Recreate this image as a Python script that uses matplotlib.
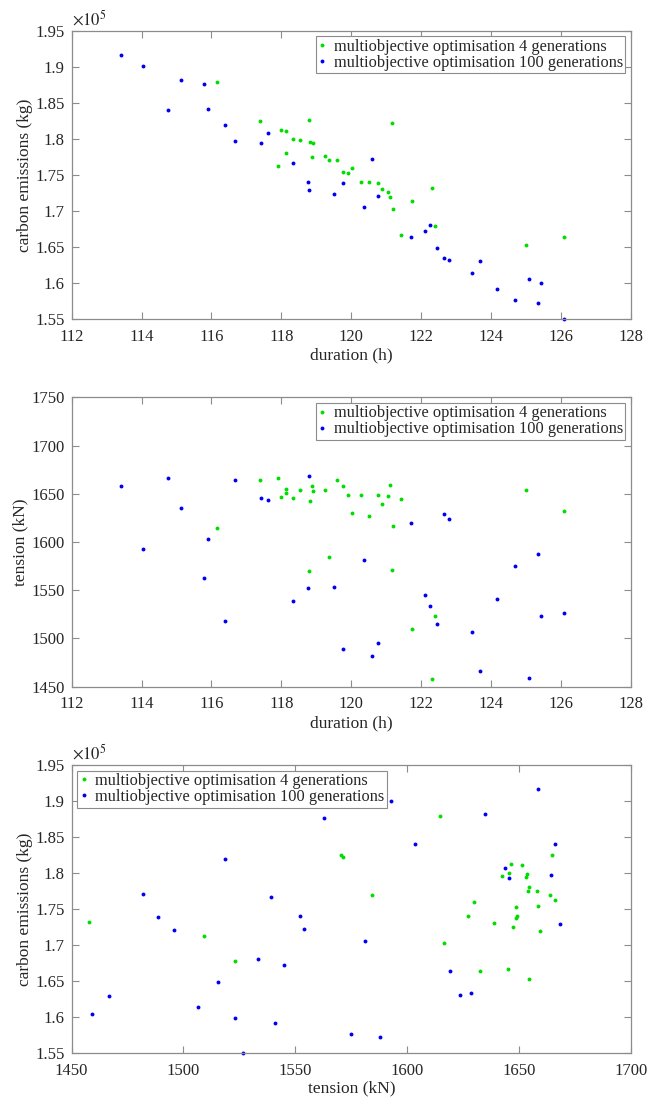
import matplotlib
matplotlib.use("Agg")
import matplotlib.pyplot as plt
from matplotlib.ticker import FuncFormatter, MultipleLocator

# ---------------- data ----------------
# multiobjective optimisation, 4 generations
g4_duration = [116.17, 117.38, 117.90, 118.00, 118.12, 118.12, 118.32, 118.54, 118.78, 118.81,
               118.88, 118.90, 119.24, 119.35, 119.60, 119.76, 119.90, 120.03, 120.29, 120.50,
               120.76, 120.87, 121.05, 121.12, 121.16, 121.20, 121.43, 121.74, 122.31, 122.39,
               125.01, 126.08]
g4_carbon = [187870, 182500, 176250, 181250, 181110, 178010, 179950, 179810, 182550, 179580,
             177500, 179400, 177550, 176990, 176990, 175460, 175230, 175930, 174070, 174030,
             173840, 173100, 172590, 171900, 182220, 170280, 166670, 171340, 173190, 167870,
             165320, 166440]
g4_tension = [1614.8, 1664.6, 1666.0, 1646.6, 1651.1, 1654.6, 1645.6, 1653.6, 1570.3, 1642.2,
              1658.1, 1653.2, 1653.9, 1584.4, 1663.9, 1658.4, 1648.7, 1629.7, 1649.1, 1627.3,
              1648.7, 1639.0, 1647.3, 1659.4, 1571.3, 1616.6, 1644.9, 1509.4, 1457.6, 1522.9,
              1654.3, 1632.5]

# multiobjective optimisation, 100 generations
g100_duration = [113.40, 114.03, 114.77, 115.12, 115.79, 115.91, 116.39, 116.67, 117.42, 117.62,
                 118.32, 118.76, 118.79, 119.51, 119.76, 120.36, 120.60, 120.76, 121.71, 122.11,
                 122.26, 122.44, 122.64, 122.81, 123.46, 123.69, 124.16, 124.68, 125.08, 125.33,
                 125.44, 126.08]
g100_carbon = [191600, 190050, 184030, 188150, 187640, 184070, 181940, 179720, 179350, 180740,
               176670, 174070, 172920, 172310, 173890, 170560, 177130, 172080, 166440, 167220,
               168060, 164860, 163430, 163150, 161390, 163010, 159170, 157690, 160510, 157270,
               159950, 155000]
g100_tension = [1658.4, 1592.7, 1666.0, 1634.9, 1563.0, 1603.4, 1518.4, 1664.3, 1645.6, 1643.5,
                1539.1, 1551.9, 1668.4, 1553.7, 1488.7, 1581.0, 1482.1, 1495.6, 1619.3, 1545.0,
                1533.3, 1515.3, 1628.7, 1623.5, 1506.3, 1466.6, 1540.9, 1575.1, 1459.0, 1587.9,
                1523.2, 1526.4]

label_4 = "multiobjective optimisation 4 generations"
label_100 = "multiobjective optimisation 100 generations"

# ---------------- style ----------------
plt.rcParams['font.family'] = ['Liberation Serif', 'DejaVu Serif']
plt.rcParams['mathtext.fontset'] = 'stix'
FS = 12
LFS = 11.75
TXT = '#262626'
AX = '#8c8c8c'
GREEN = '#00dd00'
BLUE = '#0000ee'

fig = plt.figure(figsize=(6.63, 11.04), dpi=100)
L, W = 0.108, 0.8436
ax1 = fig.add_axes([L, 0.7111, W, 0.2611])
ax2 = fig.add_axes([L, 0.3780, W, 0.2621])
ax3 = fig.add_axes([L, 0.0459, W, 0.2612])


def style(ax):
    for s in ax.spines.values():
        s.set_color(AX)
        s.set_linewidth(0.9)
    ax.tick_params(direction='in', top=True, right=True, length=5, width=0.8,
                   color=AX, labelcolor=TXT, labelsize=FS)
    ax.tick_params(axis='x', pad=7)
    ax.tick_params(axis='y', pad=5)


def pts(ax, x, y, c, lab):
    ax.plot(x, y, linestyle='none', marker='o', markersize=2.8, color=c,
            markeredgewidth=0, label=lab, clip_on=False)


carbon_fmt = FuncFormatter(lambda v, p: '%g' % round(v / 1e5, 4))

# Panel 1: duration vs carbon
pts(ax1, g4_duration, g4_carbon, GREEN, label_4)
pts(ax1, g100_duration, g100_carbon, BLUE, label_100)
ax1.set_xlim(112, 128)
ax1.set_ylim(155000, 195000)
ax1.xaxis.set_major_locator(MultipleLocator(2))
ax1.yaxis.set_major_locator(MultipleLocator(5000))
ax1.yaxis.set_major_formatter(carbon_fmt)
ax1.set_xlabel('duration (h)', fontsize=FS + 0.5, color=TXT, labelpad=2)
ax1.set_ylabel('carbon emissions (kg)', fontsize=FS + 0.5, color=TXT, labelpad=2)
ax1.text(0.0, 1.004, r'$\times10^{5}$', transform=ax1.transAxes, ha='left', va='bottom',
         fontsize=FS, color=TXT)

# Panel 2: duration vs tension
pts(ax2, g4_duration, g4_tension, GREEN, label_4)
pts(ax2, g100_duration, g100_tension, BLUE, label_100)
ax2.set_xlim(112, 128)
ax2.set_ylim(1450, 1750)
ax2.xaxis.set_major_locator(MultipleLocator(2))
ax2.yaxis.set_major_locator(MultipleLocator(50))
ax2.set_xlabel('duration (h)', fontsize=FS + 0.5, color=TXT, labelpad=2)
ax2.set_ylabel('tension (kN)', fontsize=FS + 0.5, color=TXT, labelpad=2)

# Panel 3: tension vs carbon
pts(ax3, g4_tension, g4_carbon, GREEN, label_4)
pts(ax3, g100_tension, g100_carbon, BLUE, label_100)
ax3.set_xlim(1450, 1700)
ax3.set_ylim(155000, 195000)
ax3.xaxis.set_major_locator(MultipleLocator(50))
ax3.yaxis.set_major_locator(MultipleLocator(5000))
ax3.yaxis.set_major_formatter(carbon_fmt)
ax3.set_xlabel('tension (kN)', fontsize=FS + 0.5, color=TXT, labelpad=1)
ax3.set_ylabel('carbon emissions (kg)', fontsize=FS + 0.5, color=TXT, labelpad=2)
ax3.text(0.0, 1.004, r'$\times10^{5}$', transform=ax3.transAxes, ha='left', va='bottom',
         fontsize=FS, color=TXT)

for ax, loc in [(ax1, 'upper right'), (ax2, 'upper right'), (ax3, 'upper left')]:
    style(ax)
    leg = ax.legend(loc=loc, fontsize=LFS, frameon=True, fancybox=False, framealpha=1,
                    edgecolor=AX, borderaxespad=0.35, borderpad=0.15, handlelength=0.5,
                    handletextpad=0.45, labelspacing=0.0, markerscale=1.0)
    leg.get_frame().set_linewidth(0.8)
    for t in leg.get_texts():
        t.set_color(TXT)

fig.savefig('out.png', dpi=100)
